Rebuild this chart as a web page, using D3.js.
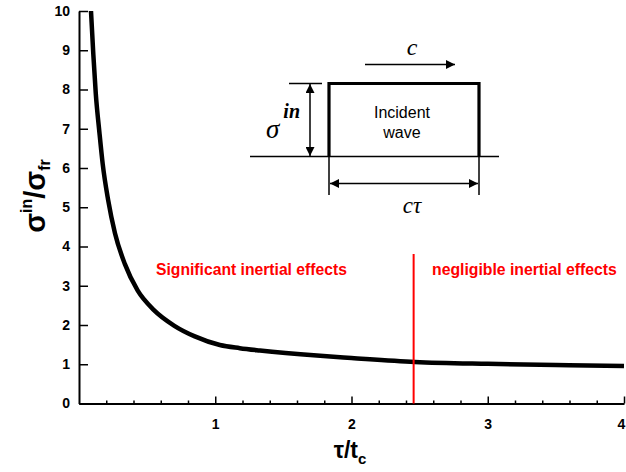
<!DOCTYPE html>
<html><head><meta charset="utf-8">
<script src="https://cdn.jsdelivr.net/npm/d3@7"></script>
<style>body{margin:0;background:#fff}svg{display:block}</style>
</head><body>
<svg id="c" width="626" height="472"></svg>
<script>
// ---- data ----
const tauRatio = [0.088, 0.105, 0.123, 0.15, 0.174, 0.213, 0.264, 0.337, 0.43, 0.55, 0.7, 0.85, 1.034, 1.18, 1.328, 1.746, 2.0, 2.465, 3.0, 3.5, 4.0];
const stressRatio = [10.0, 8.9, 7.9, 6.9, 6.1, 5.2, 4.34, 3.55, 2.88, 2.38, 1.98, 1.71, 1.49, 1.41, 1.35, 1.22, 1.16, 1.06, 1.01, 0.98, 0.955];
const xTickValues = [1, 2, 3, 4];
const xMinorTicks = [0.2, 0.4, 0.6, 0.8, 1.2, 1.4, 1.6, 1.8, 2.2, 2.4, 2.6, 2.8, 3.2, 3.4, 3.6, 3.8];
const yTickValues = [0, 1, 2, 3, 4, 5, 6, 7, 8, 9, 10];
const boundaryX = 2.456;
const regionLabels = ["Significant inertial effects", "negligible inertial effects"];

const svg = d3.select("#c");
const x = d3.scaleLinear().domain([0, 4]).range([79, 624]);
const y = d3.scaleLinear().domain([0, 10]).range([403.5, 11]);
const tickFont = "'Liberation Sans', Arial, sans-serif";

// y axis
svg.append("g").attr("transform", `translate(${x(0)},0)`)
  .call(d3.axisLeft(y).tickValues(yTickValues).tickSizeInner(-9).tickSizeOuter(0).tickPadding(9).tickFormat(d3.format("d")));
// x axis
const xa = svg.append("g").attr("transform", `translate(0,${y(0)})`)
  .call(d3.axisBottom(x).tickValues(xTickValues).tickSizeInner(-7).tickSizeOuter(0).tickPadding(16).tickFormat(d3.format("d")));
xa.selectAll(".tick text").filter(d => d === 4).attr("dx", -3);
svg.append("g").attr("transform", `translate(0,${y(0)})`)
  .call(d3.axisBottom(x).tickValues(xMinorTicks).tickSizeInner(-3).tickSizeOuter(0).tickFormat(""))
  .call(g => g.select(".domain").remove());
svg.selectAll(".domain").attr("stroke", "#000").attr("stroke-width", 2);
svg.selectAll(".tick line").attr("stroke", "#000").attr("stroke-width", 1.5);
svg.selectAll(".tick text").attr("font-family", tickFont).attr("font-size", 14).attr("font-weight", "bold").attr("fill", "#000");

// curve
const line = d3.line().x((d, i) => x(tauRatio[i])).y((d, i) => y(stressRatio[i])).curve(d3.curveMonotoneX);
svg.append("path").datum(stressRatio).attr("d", line)
  .attr("fill", "none").attr("stroke", "#000").attr("stroke-width", 4.5);

// boundary line
svg.append("line").attr("x1", x(boundaryX)).attr("x2", x(boundaryX)).attr("y1", 254).attr("y2", y(0))
  .attr("stroke", "#ff0000").attr("stroke-width", 2);

// red region labels, fitted to width
function fitText(t, w) {
  const len = t.node().getComputedTextLength();
  t.attr("font-size", 13 * w / len);
}
fitText(svg.append("text").attr("x", 156).attr("y", 275).attr("fill", "#ff0000")
  .attr("font-family", tickFont).attr("font-weight", "bold").attr("font-size", 13).text(regionLabels[0]), 191);
fitText(svg.append("text").attr("x", 432).attr("y", 275).attr("fill", "#ff0000")
  .attr("font-family", tickFont).attr("font-weight", "bold").attr("font-size", 13).text(regionLabels[1]), 185);

// axis titles
const yt = svg.append("text").attr("transform", "translate(45,196) rotate(-90)")
  .attr("font-family", tickFont).attr("font-weight", "bold").attr("fill", "#000");
yt.append("tspan").attr("font-size", 29).text("σ");
yt.append("tspan").attr("font-size", 16).attr("dy", -13).text("in");
yt.append("tspan").attr("font-size", 29).attr("dy", 13).text("/σ");
yt.append("tspan").attr("font-size", 16).attr("dy", 5).text("fr");
{
  const w = yt.node().getComputedTextLength();
  yt.attr("transform", `translate(45,${196 + w / 2}) rotate(-90)`);
}

const xt = svg.append("text").attr("x", 350).attr("y", 458)
  .attr("text-anchor", "middle").attr("font-family", tickFont).attr("font-weight", "bold").attr("fill", "#000");
xt.append("tspan").attr("font-size", 23).text("τ/t");
xt.append("tspan").attr("font-size", 15).attr("dy", 6).text("c");

// inset diagram
const defs = svg.append("defs");
defs.append("marker").attr("id", "ah").attr("viewBox", "0 0 10 10").attr("refX", 10).attr("refY", 5)
  .attr("markerWidth", 15).attr("markerHeight", 9).attr("markerUnits", "userSpaceOnUse").attr("orient", "auto-start-reverse")
  .append("path").attr("d", "M0,0L10,5L0,10Z").attr("fill", "#000");
const ins = svg.append("g").attr("stroke", "#000").attr("fill", "none");
ins.append("line").attr("x1", 250).attr("x2", 499).attr("y1", 156.5).attr("y2", 156.5).attr("stroke-width", 1.3);
ins.append("path").attr("d", "M329,156.5V83.5H479V156.5").attr("stroke-width", 3.2);
ins.append("line").attr("x1", 289).attr("x2", 322).attr("y1", 83.5).attr("y2", 83.5).attr("stroke-width", 1.3);
ins.append("line").attr("x1", 310).attr("x2", 310).attr("y1", 84).attr("y2", 156).attr("stroke-width", 1.5)
  .attr("marker-start", "url(#ah)").attr("marker-end", "url(#ah)");
ins.append("line").attr("x1", 329).attr("x2", 329).attr("y1", 157).attr("y2", 195).attr("stroke-width", 1.5);
ins.append("line").attr("x1", 479).attr("x2", 479).attr("y1", 157).attr("y2", 195).attr("stroke-width", 1.5);
ins.append("line").attr("x1", 330).attr("x2", 478).attr("y1", 183.5).attr("y2", 183.5).attr("stroke-width", 1.5)
  .attr("marker-start", "url(#ah)").attr("marker-end", "url(#ah)");
ins.append("line").attr("x1", 365).attr("x2", 455).attr("y1", 64.5).attr("y2", 64.5).attr("stroke-width", 1.5)
  .attr("marker-end", "url(#ah)");

const serif = "'Liberation Serif', 'Times New Roman', serif";
svg.append("text").attr("x", 412).attr("y", 55).attr("text-anchor", "middle").attr("font-family", serif)
  .attr("font-style", "italic").attr("font-size", 24).text("c");
svg.append("text").attr("x", 412).attr("y", 213).attr("text-anchor", "middle").attr("font-family", serif)
  .attr("font-style", "italic").attr("font-size", 23).text("cτ");
const sg = svg.append("text").attr("x", 266).attr("y", 138).attr("font-family", serif).attr("font-style", "italic");
sg.append("tspan").attr("font-size", 27).text("σ");
sg.append("tspan").attr("font-size", 20).attr("dx", 4).attr("dy", -20).attr("font-weight", "bold").text("in");
svg.append("text").attr("x", 402).attr("y", 118).attr("text-anchor", "middle").attr("font-family", tickFont)
  .attr("font-size", 16).text("Incident");
svg.append("text").attr("x", 402).attr("y", 138).attr("text-anchor", "middle").attr("font-family", tickFont)
  .attr("font-size", 16).text("wave");
</script>
</body></html>
